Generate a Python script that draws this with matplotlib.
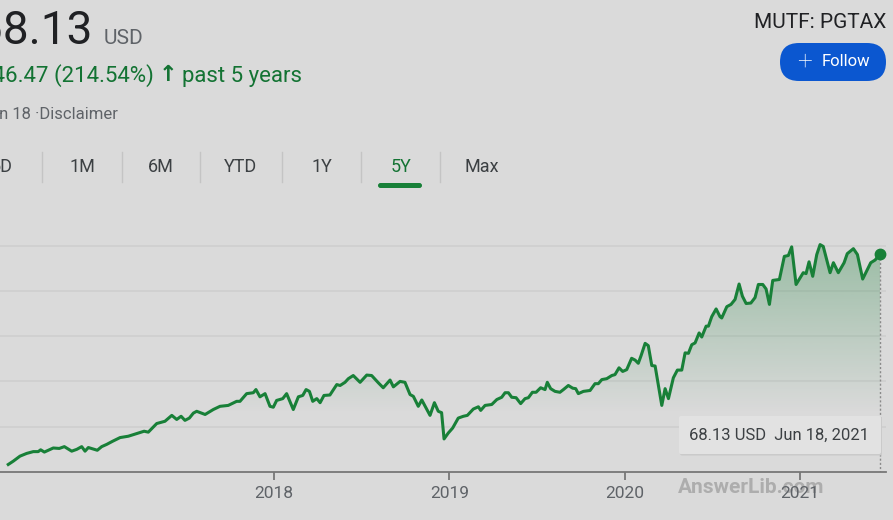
import numpy as np
import matplotlib
matplotlib.use("Agg")
import matplotlib.pyplot as plt
from matplotlib.patches import FancyBboxPatch, Polygon
from matplotlib.lines import Line2D
from matplotlib.transforms import IdentityTransform

plt.rcParams['font.family'] = ['Roboto', 'DejaVu Sans']

# PGTAX price, 5Y view (time in decimal years, price in USD)
years = [2016.484, 2016.513, 2016.551, 2016.589, 2016.627, 2016.655, 2016.669, 2016.690,
         2016.741, 2016.775, 2016.804, 2016.846, 2016.875, 2016.903, 2016.922, 2016.941,
         2016.992, 2017.017, 2017.046, 2017.080, 2017.122, 2017.169, 2017.217, 2017.259,
         2017.283, 2017.331, 2017.378, 2017.417, 2017.445, 2017.470, 2017.492, 2017.517,
         2017.540, 2017.559, 2017.607, 2017.654, 2017.692, 2017.739, 2017.787, 2017.806,
         2017.844, 2017.882, 2017.897, 2017.920, 2017.949, 2017.977, 2017.996, 2018.015,
         2018.050, 2018.072, 2018.110, 2018.139, 2018.164, 2018.183, 2018.202, 2018.221,
         2018.244, 2018.263, 2018.285, 2018.319, 2018.358, 2018.377, 2018.405, 2018.424,
         2018.452, 2018.491, 2018.529, 2018.557, 2018.595, 2018.623, 2018.662, 2018.681,
         2018.719, 2018.747, 2018.776, 2018.795, 2018.823, 2018.843, 2018.890, 2018.915,
         2018.937, 2018.956, 2018.970, 2018.994, 2019.019, 2019.051, 2019.080, 2019.103,
         2019.137, 2019.166, 2019.179, 2019.204, 2019.242, 2019.271, 2019.299, 2019.318,
         2019.337, 2019.356, 2019.381, 2019.407, 2019.432, 2019.451, 2019.474, 2019.495,
         2019.521, 2019.546, 2019.559, 2019.578, 2019.603, 2019.631, 2019.651, 2019.679,
         2019.704, 2019.721, 2019.736, 2019.765, 2019.803, 2019.831, 2019.850, 2019.870,
         2019.898, 2019.927, 2019.945, 2019.968, 2019.989, 2020.012, 2020.040, 2020.060,
         2020.078, 2020.094, 2020.117, 2020.135, 2020.155, 2020.174, 2020.212, 2020.231,
         2020.250, 2020.278, 2020.301, 2020.326, 2020.345, 2020.364, 2020.383, 2020.402,
         2020.425, 2020.440, 2020.465, 2020.478, 2020.497, 2020.522, 2020.544, 2020.554,
         2020.583, 2020.607, 2020.630, 2020.653, 2020.672, 2020.693, 2020.720, 2020.744,
         2020.763, 2020.788, 2020.807, 2020.826, 2020.845, 2020.883, 2020.911, 2020.934,
         2020.953, 2020.978, 2021.019, 2021.035, 2021.052, 2021.073, 2021.096, 2021.115,
         2021.133, 2021.172, 2021.191, 2021.219, 2021.252, 2021.270, 2021.305, 2021.328,
         2021.358, 2021.404, 2021.429, 2021.457]
price = [21.66, 22.4, 23.5, 24.1, 24.5, 24.5, 24.9, 24.4,
         25.3, 25.2, 25.6, 24.6, 25.0, 25.6, 24.6, 25.4,
         24.8, 25.6, 26.1, 26.8, 27.6, 27.9, 28.5, 29.0,
         28.8, 30.7, 31.2, 32.5, 31.6, 32.3, 31.4, 31.9,
         33.0, 33.4, 32.7, 33.8, 34.5, 34.7, 35.6, 35.6,
         37.3, 37.5, 38.2, 36.6, 37.3, 34.5, 34.3, 35.8,
         36.2, 37.3, 33.8, 36.6, 36.9, 38.2, 37.8, 35.6,
         36.2, 35.3, 36.9, 37.0, 39.3, 39.1, 39.8, 40.6,
         41.3, 39.8, 41.4, 41.3, 39.7, 38.6, 40.3, 38.8,
         40.0, 39.8, 37.1, 36.7, 34.5, 35.9, 32.5, 35.3,
         33.4, 33.1, 27.3, 28.6, 29.7, 31.9, 32.3, 32.5,
         33.9, 34.4, 33.6, 34.7, 34.9, 36.0, 36.5, 37.5,
         37.5, 36.5, 36.4, 35.1, 36.2, 36.4, 37.6, 37.6,
         38.6, 38.2, 39.8, 38.4, 37.8, 37.6, 38.2, 39.1,
         38.5, 38.4, 37.3, 37.8, 38.0, 39.5, 39.5, 40.4,
         40.6, 41.3, 41.5, 43.0, 42.2, 42.6, 45.1, 44.7,
         44.0, 45.7, 48.4, 47.9, 43.5, 43.4, 34.7, 38.4,
         36.2, 40.8, 42.5, 42.5, 46.3, 46.2, 48.1, 48.5,
         50.7, 49.8, 52.2, 52.2, 54.3, 56.0, 54.3, 54.0,
         56.5, 57.0, 58.1, 61.5, 58.8, 57.2, 57.3, 58.5,
         61.4, 61.4, 60.4, 57.0, 62.3, 62.5, 67.6, 67.8,
         69.7, 61.4, 64.0, 63.8, 66.4, 63.2, 68.0, 70.2,
         69.8, 64.0, 66.2, 64.0, 66.2, 68.2, 69.3, 68.0,
         62.6, 66.2, 66.8, 68.13]
year_ticks = [2018, 2019, 2020, 2021]
grid_levels = [30, 40, 50, 60, 70]
tabs = ['1M', '6M', 'YTD', '1Y', '5Y', 'Max']

W, H = 893, 520
bg = '#dadada'
green = '#188038'
dark_green = '#137333'

fig = plt.figure(figsize=(W / 100, H / 100), dpi=100, facecolor=bg)


def ft(x, y, s, **kw):
    # place text using pixel coords measured from the top-left
    return fig.text(x / W, 1 - y / H, s, **kw)


def box(x0, y0, x1, y1, r, **kw):
    p = FancyBboxPatch((x0, H - y1), x1 - x0, y1 - y0,
                       boxstyle="round,pad=0,rounding_size=%g" % r,
                       transform=IdentityTransform(), **kw)
    fig.patches.append(p)
    return p


# header
ft(92, 44, '68.13', ha='right', va='baseline', fontsize=33, color='#202124')
ft(104, 44, 'USD', ha='left', va='baseline', fontsize=15, color='#5f6368')
ft(154, 82, '+46.47 (214.54%)', ha='right', va='baseline', fontsize=16, color=dark_green)
ft(168, 81, '\u2191', ha='center', va='baseline', fontsize=16, color=dark_green,
   family='DejaVu Sans', fontweight='bold')
ft(182, 82, 'past 5 years', ha='left', va='baseline', fontsize=16, color=dark_green)
ft(118, 119, 'Jun 18 \u00b7Disclaimer', ha='right', va='baseline', fontsize=12, color='#5f6368')
ft(886, 28, 'MUTF: PGTAX', ha='right', va='baseline', fontsize=15, color='#202124')

# follow button
box(780, 43, 886, 81, 19, facecolor='#0b57d0', edgecolor='none')
ft(804, 62, '+', ha='center', va='center', fontsize=19, color='white', fontweight='light')
ft(822, 62, 'Follow', ha='left', va='center', fontsize=12, color='white')

# range tabs
ft(13, 167, '5D', ha='right', va='center', fontsize=13, color='#3c4043')
tab_x = [82, 160.5, 240.5, 321.5, 401.5, 481.5]
for tx, lab in zip(tab_x, tabs):
    ft(tx, 167, lab, ha='center', va='center', fontsize=13,
       color=dark_green if lab == '5Y' else '#3c4043')
for sx in [42, 122, 200, 282, 361, 440]:
    fig.lines.append(Line2D([sx, sx], [H - 152, H - 182], color='#c4c4c4', lw=1,
                            transform=IdentityTransform()))
box(378, 183, 422, 188, 2.5, facecolor=green, edgecolor='none')

# watermark sits under the axis labels
ft(678, 493, 'AnswerLib.com', ha='left', va='baseline', fontsize=15, fontweight='bold',
   color='#adadad', zorder=-1)

# chart
ax = fig.add_axes([0, 48 / H, 886 / W, (472 - 236) / H])
ax.patch.set_facecolor('none')
x0, x1 = 2016.437, 2021.491
y0, y1 = 20, 72.1

for g in grid_levels:
    ax.axhline(g, color='#cdcdcd', lw=1.1, zorder=0)

# gradient fill under the line
yy = np.linspace(y0, y1, 256)
img = np.zeros((256, 1, 4))
img[..., :3] = matplotlib.colors.to_rgb(green)
img[:, 0, 3] = np.clip((yy - 33) / (70 - 33), 0, 1) * 0.33
im = ax.imshow(img, extent=[x0, x1, y0, y1], origin='lower', aspect='auto', zorder=1)
verts = np.column_stack([np.r_[years, years[::-1]], np.r_[price, [y0] * len(price)]])
clip = Polygon(verts, closed=True, facecolor='none', edgecolor='none', transform=ax.transData)
ax.add_patch(clip)
im.set_clip_path(clip)

ax.plot(years, price, color=green, lw=2.2, zorder=3, solid_joinstyle='round')
ax.plot([years[-1], years[-1]], [price[-1], y0], color='#8a8a8a', lw=1, ls=(0, (1.5, 1.5)), zorder=2)
ax.plot(years[-1], price[-1], 'o', color=green, ms=7.5, zorder=4, clip_on=False)

ax.set_xlim(x0, x1)
ax.set_ylim(y0, y1)
ax.set_xticks(year_ticks)
ax.set_xticklabels([str(y) for y in year_ticks])
ax.set_yticks([])
for s in ['top', 'right', 'left']:
    ax.spines[s].set_visible(False)
ax.spines['bottom'].set_color('#777777')
ax.spines['bottom'].set_linewidth(1.3)
ax.tick_params(axis='x', direction='out', length=6, width=1.3, color='#777777',
               labelsize=12.5, labelcolor='#5f6368', pad=4)

# tooltip
box(680, 417, 882, 455.5, 2, facecolor='#cacaca', edgecolor='none', zorder=5)
box(679, 416, 881, 454, 2, facecolor='#e2e2e2', edgecolor='none', zorder=6)
ft(689, 435, '68.13 USD  Jun 18, 2021', ha='left', va='center', fontsize=12,
   color='#3c4043', zorder=7)

fig.savefig('out.png', dpi=100, facecolor=bg)
